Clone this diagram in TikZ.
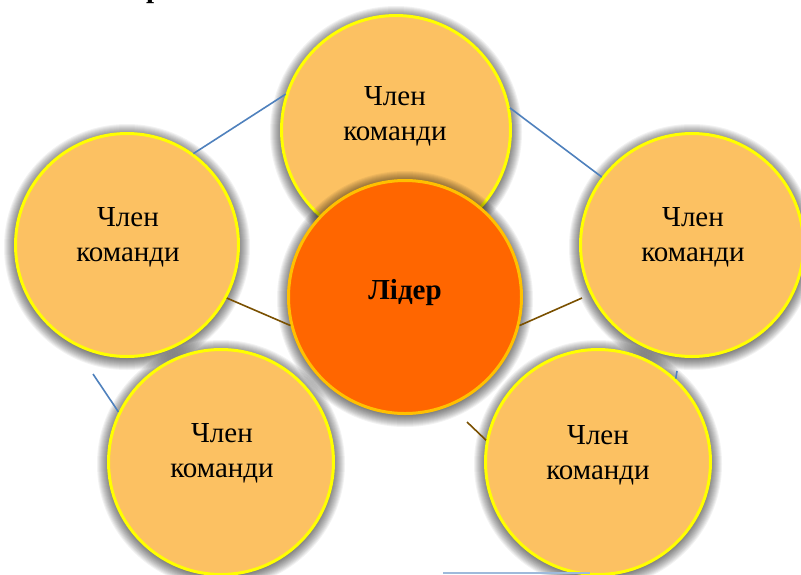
\documentclass[tikz,border=0pt]{standalone}
\usepackage{fontspec}
\setmainfont{Liberation Serif}
\newfontfamily\diagserif{Liberation Serif}
\definecolor{memberfill}{RGB}{252,193,98}
\definecolor{ringyellow}{RGB}{255,255,0}
\definecolor{leaderfill}{RGB}{255,102,0}
\definecolor{leaderring}{RGB}{255,192,0}
\definecolor{linkblue}{RGB}{79,129,189}
\definecolor{linkbrown}{RGB}{122,80,0}
\tikzset{
  member/.style={circle, fill=memberfill, draw=ringyellow, line width=3pt, minimum size=#1, inner sep=0pt},
  leader/.style={circle, fill=leaderfill, draw=leaderring, line width=3pt, minimum size=#1, inner sep=0pt},
  lbl/.style={align=center, inner sep=0pt, font=\diagserif\fontsize{29}{35}\selectfont, text=black},
  leadlbl/.style={inner sep=0pt, font=\diagserif\fontsize{29}{35}\selectfont\bfseries, text=black},
  bluelink/.style={draw=linkblue, line width=1.6pt},
  brownlink/.style={draw=linkbrown, line width=1.6pt},
}
\newcommand\softshadow[3]{%
  \foreach \k [evaluate=\k as \rr using #3+\k] in {1,...,12}
    {\fill[black, opacity=0.05] (#1,#2+2) circle[radius=\rr pt];}%
}
\begin{document}
\begin{tikzpicture}[x=1pt,y=-1pt]
\useasboundingbox (0,0) rectangle (801,574);
\clip (0,0) rectangle (801,574);
\fill[white] (0,0) rectangle (801,574);

% heading fragment
\node[anchor=base west, inner sep=0pt, font=\diagserif\fontsize{29}{35}\selectfont\bfseries] (head) at (146,-3) {р};

% circles
\softshadow{396}{130}{114}
\node[member=229pt] (T) at (396,130) {};
\softshadow{127}{245}{111}
\node[member=223pt] (L) at (127,245) {};
\softshadow{692}{245}{111}
\node[member=223pt] (R) at (692,245) {};
\softshadow{221}{462}{112}
\node[member=225pt] (BL) at (221,462) {};
\softshadow{598}{462}{112}
\node[member=225pt] (BR) at (598,462) {};
\softshadow{405}{297}{116}
\node[leader=233pt] (C) at (405,297) {};

% labels
\node[lbl] (tT) at (395,116) {Член\\команди};
\node[lbl] (tL) at (128,237) {Член\\команди};
\node[lbl] (tR) at (693,237) {Член\\команди};
\node[lbl] (tBL) at (222,453) {Член\\команди};
\node[lbl] (tBR) at (598,455) {Член\\команди};
\node[leadlbl] (tC) at (405,293) {Лідер};

% connectors
\coordinate (lbA) at (93,374);
\coordinate (rbA) at (677,371);
\coordinate (crA) at (582,298);
\coordinate (cbA) at (467,422);
\coordinate (btA) at (443,573);
\coordinate (btB) at (590,573);
\draw[bluelink] (L.54) -- (T.162);
\draw[bluelink] (T.11) -- (R.143);
\draw[bluelink] (lbA) -- (BL.154);
\draw[bluelink] (rbA) -- (BR.47);
\draw[brownlink] (L.-28) -- (C.194);
\draw[brownlink] (C.-14) -- (crA);
\draw[brownlink] (cbA) -- (BR.169);
\draw[draw=linkblue!55, line width=1.5pt] (btA) -- (btB);
\end{tikzpicture}
\end{document}
